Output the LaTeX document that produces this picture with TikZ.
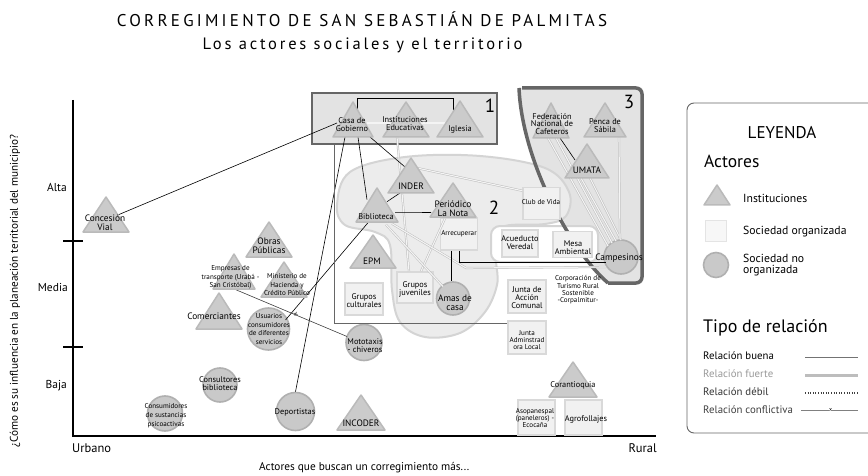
\documentclass[tikz,border=0pt]{standalone}
\usepackage{fontspec}
\setmainfont{PT Sans}
\usetikzlibrary{calc}
\definecolor{trif}{HTML}{CBCBCB}
\definecolor{trid}{HTML}{BABABA}
\definecolor{sqf}{HTML}{F1F1F1}
\definecolor{sqd}{HTML}{D9D9D9}
\definecolor{cif}{HTML}{C9C9C9}
\definecolor{cid}{HTML}{B0B0B0}
\definecolor{blobf}{HTML}{ECECEC}
\definecolor{blobd}{HTML}{D4D4D4}
\definecolor{boxf}{HTML}{E3E3E3}
\definecolor{frd}{HTML}{666666}
\definecolor{strd}{HTML}{BDBDBD}
\definecolor{strf}{HTML}{F4F4F4}
\newcommand\trishape[4]{\path[tri] ({#1-#3},#2) -- (#1,{#2-#4}) -- ({#1+#3},#2) -- cycle;}
\begin{document}
\begin{tikzpicture}[x=1pt,y=-1pt,
 tri/.style={fill=trif,draw=trid,line width=1.5pt,line join=round},
 sq/.style={fill=sqf,draw=sqd,line width=1.5pt,inner sep=0pt},
 circ/.style={circle,fill=cif,draw=cid,line width=1.6pt,inner sep=0pt},
 lbl/.style={font=\fontsize{8.3}{7.9}\selectfont,align=center,inner sep=0pt},
 big/.style={font=\fontsize{9.3}{9}\selectfont},
 small/.style={font=\fontsize{7.1}{8.7}\selectfont},
 tight/.style={font=\fontsize{7.1}{7.3}\selectfont},
 good/.style={draw=black,line width=0.6pt},
 confl/.style={draw=black!75,line width=0.6pt},
 strong/.style={draw=strd,double=strf,double distance=1.1pt,line width=0.5pt},
 frame/.style={draw=frd,line width=1.4pt},
 axis/.style={draw=black,line width=1.1pt},
 ax/.style={font=\fontsize{11.5}{12}\selectfont,inner sep=0pt},
 num/.style={font=\fontsize{19}{20}\selectfont,inner sep=0pt},
 leg/.style={font=\fontsize{11.7}{12}\selectfont,inner sep=0pt,anchor=west,align=left},
 rel/.style={font=\fontsize{10.8}{12}\selectfont,inner sep=0pt,anchor=west}]
\useasboundingbox (0,0) rectangle (868,476);
\clip (0,0) rectangle (868,476);
\fill[white] (0,0) rectangle (868,476);

% titles
\node[font=\fontsize{17}{19}\selectfont\addfontfeatures{LetterSpace=19}] (title) at (362,19) {CORREGIMIENTO DE SAN SEBASTIÁN DE PALMITAS};
\node[font=\fontsize{16.5}{18}\selectfont\addfontfeatures{LetterSpace=17}] (subtitle) at (362.5,45) {Los actores sociales y el territorio};

% axes
\draw[axis] (73,100) -- (73,436) -- (656,436);
\draw[axis] (63,241) -- (83,241);
\draw[axis] (63,347) -- (83,347);
\node[ax,anchor=east] (alta) at (67,187) {Alta};
\node[ax,anchor=east] (media) at (68,287) {Media};
\node[ax,anchor=east] (baja) at (67,386) {Baja};
\node[ax,anchor=west,font=\fontsize{12.5}{13}\selectfont] (urb) at (72,448) {Urbano};
\node[ax,anchor=east,font=\fontsize{12.5}{13}\selectfont] (rur) at (657,448) {Rural};
\node[font=\fontsize{11.3}{12}\selectfont,anchor=west,inner sep=0pt] (xt) at (259,468) {Actores que buscan un corregimiento más...};
\node[font=\fontsize{11.2}{12}\selectfont,rotate=90,inner sep=0pt] (yt) at (15,291) {¿Cómo es su influencia en la planeación territorial del municipio?};

% group boxes
\node[draw=frd,fill=boxf,line width=2.5pt,minimum width=185,minimum height=51,inner sep=0pt] (box1) at (404.5,118.5) {};
\fill[boxf] (519,88) -- (642,88) -- (642,283) -- (608,283) .. controls (570,250) and (522,160) .. (519,88) -- cycle;
\draw[blobd,fill=blobf,line width=2pt] plot[smooth cycle,tension=0.6] coordinates {(337,205) (350,172) (405,157) (480,156) (545,168) (569,192) (566,216) (545,224) (505,226) (494,240) (496,262) (497,285) (485,312) (460,333) (425,337) (400,322) (392,290) (390,245) (375,232) (345,225)};
\draw[blobd,fill=white,line width=2pt,rounded corners=9pt] (491,226) rectangle (598,262);
\draw[frd,line width=3.5pt,rounded corners=6pt,line join=round] (608,283) -- (642,283) -- (642,88) -- (522,88);
\draw[frd,line width=3.5pt] (608,283) .. controls (570,250) and (522,160) .. (519,88);

% named shapes (backgrounds for labels)
\node[sq,minimum width=37,minimum height=32] (club) at (541.5,203.5) {};
\node[sq,minimum width=36,minimum height=27] (acue) at (520,243.5) {};
\node[sq,minimum width=39,minimum height=26] (mesa) at (572.5,244.5) {};
\node[sq,minimum width=37,minimum height=32] (arr) at (459,234) {};
\node[sq,minimum width=38,minimum height=32] (gcul) at (364,299) {};
\node[sq,minimum width=36,minimum height=31] (gjuv) at (415,287.5) {};
\node[sq,minimum width=38,minimum height=33] (jac) at (527,296.5) {};
\node[sq,minimum width=38,minimum height=33] (jadm) at (527,337.5) {};
\node[sq,minimum width=37,minimum height=35] (asop) at (536.5,417.5) {};
\node[sq,minimum width=37,minimum height=35] (agro) at (583.5,417.5) {};
\node[circ,minimum size=34] (camp) at (621,257) {};
\node[circ,minimum size=33] (amas) at (453,298.5) {};
\node[circ,minimum size=42] (usu) at (268.5,329) {};
\node[circ,minimum size=36] (moto) at (364,342.5) {};
\node[circ,minimum size=34] (cons) at (220,385) {};
\node[circ,minimum size=35] (csp) at (165,413.5) {};
\node[circ,minimum size=38] (depo) at (295.5,411.5) {};

% label positions (for triangles)
\coordinate (casa) at (352,125);
\coordinate (inst) at (405,124);
\coordinate (igle) at (460,129);
\coordinate (fed) at (552,124);
\coordinate (penca) at (605,125.5);
\coordinate (umata) at (587,170);
\coordinate (conc) at (105,222.5);
\coordinate (obras) at (269,246);
\coordinate (emp) at (230.5,277.3);
\coordinate (min) at (287,284.8);
\coordinate (com) at (214,316);
\coordinate (inder) at (411,186);
\coordinate (bib) at (376,216.7);
\coordinate (per) at (453,208.5);
\coordinate (epm) at (372,261.7);
\coordinate (incoder) at (361,423.3);
\coordinate (coran) at (573,385);

% connectors: strong relations
\draw[strong] ($(casa)+(15,-2)$) -- ($(igle)+(-15,-6)$);
\draw[strong] ($(inst)+(-8,13)$) -- ($(gjuv.north)+(-6,0)$);
\draw[strong] ($(per)+(-8,10)$) -- ($(gjuv.north)+(6,0)$);
\draw[strong] ($(bib)+(10,8)$) -- ($(amas)+(-10,-12)$);
\draw[strong] ($(bib)+(16,7)$) -- (466,268) -- ($(camp)+(-15,10)$);
\draw[strong] ($(inder)+(6,-18)$) -- ($(club.north west)+(0,4)$);
\draw[strong] ($(fed)+(-4,14)$) -- ($(camp)+(-13,-11)$);
\draw[strong] ($(fed)+(4,14)$) -- ($(camp)+(-9,-14)$);
\draw[strong] ($(umata)+(-6,8)$) -- ($(camp)+(-5,-16)$);
\draw[strong] ($(umata)+(3,8)$) -- ($(camp)+(0,-17)$);
\draw[strong] ($(penca)+(14,12)$) -- ($(camp.north)+(-1,0)$);

% connectors: good relations
\draw[good] ($(casa)+(-15,-2)$) -- ($(conc)+(14,-8)$);
\draw[good] ($(casa)+(-7,12)$) -- (depo.north);
\draw[good] ($(casa)+(6,12)$) -- ($(bib)+(-9,-17)$);
\draw[good] ($(casa)+(18,12)$) -- ($(inder)+(-6,-19)$);
\draw[good] ($(bib)+(-8,6)$) -- ($(usu)+(17,-9)$);
\draw[good] ($(bib)+(19,-4)$) -- ($(per)+(-22,4)$);
\draw[good] ($(bib)+(11,-15)$) -- ($(inder)+(-11,7)$);
\draw[good] ($(arr.south)+(-8,0)$) -- ($(amas.north)+(-2,0)$);
\draw[good] (arr.south) |- ($(camp)+(-15,5)$);
\draw[good] ($(fed)+(8,14)$) -- ($(umata)+(-12,-10)$);
\draw[good] ($(casa)+(5,-13)$) |- ($(igle)+(-7,-31)$) -- ($(igle)+(-7,-16)$);
\draw[confl] ($(emp)+(2,11)$) -- node[pos=.55,sloped,inner sep=0pt,font=\fontsize{10}{10}\selectfont,text=black!75]{+} ($(moto)+(-17,-6)$);
\draw[frame] ($(box1.south west)+(24,0)$) |- ($(jadm.north west)+(0,3)$);

% triangles
\trishape{353}{137}{20}{35}
\trishape{406}{137}{23}{35}
\trishape{460}{137}{23}{36}
\trishape{551}{138}{18}{35}
\trishape{605}{137}{21}{34}
\trishape{587}{178}{22}{34}
\trishape{106}{232}{23}{35}
\trishape{269}{257}{23}{35}
\trishape{234}{289}{21}{35}
\trishape{284}{297}{23}{35}
\trishape{219}{329}{23}{36}
\trishape{411}{193}{23}{35}
\trishape{377}{222}{21}{34}
\trishape{453}{217}{23}{34}
\trishape{373}{268}{23}{33}
\trishape{361}{430}{24}{35}
\trishape{573}{397}{24}{35}

% labels
\node[lbl] (casaT) at (casa) {Casa de\\Gobierno};
\node[lbl] (instT) at (inst) {Instituciones\\Educativas};
\node[lbl] (igleT) at (igle) {Iglesia};
\node[lbl] (fedT) at (fed) {Federación\\Nacional de\\Cafeteros};
\node[lbl] (pencaT) at (penca) {Penca de\\Sábila};
\node[lbl,big] (umataT) at (umata) {UMATA};
\node[lbl,big] (concT) at (conc) {Concesión\\Vial};
\node[lbl,big] (obrasT) at (obras) {Obras\\Públicas};
\node[lbl,small] (empT) at (emp) {Empresas de\\transporte (Urabá -\\San Cristóbal)};
\node[lbl,small] (minT) at (min) {Ministerio de\\Hacienda y\\Crédito Público};
\node[lbl,big] (comT) at (com) {Comerciantes};
\node[lbl,big] (inderT) at (inder) {INDER};
\node[lbl] (bibT) at (bib) {Biblioteca};
\node[lbl,big] (perT) at (per) {Periódico\\La Nota};
\node[lbl,big] (epmT) at (epm) {EPM};
\node[lbl,big] (incoderT) at (incoder) {INCODER};
\node[lbl] (coranT) at (coran) {Corantioquia};
\node[lbl,small] (clubT) at (541,202.3) {Club de Vida};
\node[lbl] (acueT) at (520,242.7) {Acueducto\\Veredal};
\node[lbl] (mesaT) at (573,248) {Mesa\\Ambiental};
\node[lbl,small] (arrT) at (arr) {Arrecuperar};
\node[lbl] (gculT) at (364,300.5) {Grupos\\culturales};
\node[lbl] (gjuvT) at (415,289) {Grupos\\juveniles};
\node[lbl] (jacT) at (527,297.3) {Junta de\\Acción\\Comunal};
\node[lbl,tight] (jadmT) at (527,340) {Junta\\Adminstrad\\ora Local};
\node[lbl,tight] (asopT) at (535,418) {Asopanespal\\(paneleros) -\\Ecocaña};
\node[lbl] (agroT) at (586,419) {Agrofollajes};
\node[lbl,tight] (corpT) at (578,290) {Corporación de\\Turismo Rural\\Sostenible\\-Corpalmitur-};
\node[lbl,big] (campT) at (619,258) {Campesinos};
\node[lbl,big] (amasT) at (455,302.5) {Amas de\\casa};
\node[lbl,small] (usuT) at (269,329) {Usuarios\\consumidores\\de diferentes\\servicios};
\node[lbl] (motoT) at (365,346) {Mototaxis\\- chiveros};
\node[lbl] (consT) at (220,384) {Consultores\\biblioteca};
\node[lbl,small] (cspT) at (166,415.7) {Consumidores\\de sustancias\\psicoactivas};
\node[lbl] (depoT) at (295,412.7) {Deportistas};
\node[num] (n1) at (490,106) {1};
\node[num] (n2) at (494,208) {2};
\node[num] (n3) at (629,102) {3};

% legend
\draw[draw=frd,line width=0.9pt,rounded corners=7pt] (687,103) rectangle (890,433);
\node[font=\fontsize{17}{18}\selectfont,inner sep=0pt] (leyT) at (782,133) {LEYENDA};
\node[font=\fontsize{17.5}{18}\selectfont,inner sep=0pt,anchor=west] (actT) at (704,161) {Actores};
\trishape{717}{205}{13}{20}
\node[leg] (l1) at (743,198) {Instituciones};
\node[sq,fill=sqf!60,draw=sqd!70,line width=1pt,minimum size=21] (lsq) at (715.5,230.5) {};
\node[leg] (l2) at (743,232) {Sociedad organizada};
\node[circ,minimum size=25] (lci) at (716,265) {};
\node[leg,font=\fontsize{11.7}{11}\selectfont] (l3) at (743,265) {Sociedad no\\organizada};
\node[font=\fontsize{18}{19}\selectfont,inner sep=0pt,anchor=west] (tipT) at (703,328) {Tipo de relación};
\node[rel] (r1) at (703,356) {Relación buena};
\node[rel,text=black!40] (r2) at (703,374) {Relación fuerte};
\node[rel,text=black!80] (r3) at (703,392) {Relación débil};
\node[rel,text=black!75] (r4) at (703,410) {Relación conflictiva};
\coordinate (a1) at (805,357); \coordinate (b1) at (858,357);
\coordinate (a2) at (805,375); \coordinate (b2) at (858,375);
\coordinate (a3) at (805,393); \coordinate (b3) at (858,393);
\coordinate (a4) at (801,410); \coordinate (b4) at (858,410);
\draw[draw=black!55,line width=0.6pt] (a1) -- (b1);
\draw[draw=strd,line width=3pt] (a2) -- (b2);
\draw[draw=black!75,line width=1.2pt,dash pattern=on 1pt off 1.6pt] (a3) -- (b3);
\draw[draw=black!50,line width=0.6pt] (a4) -- node[pos=.52,inner sep=0pt,fill=white,font=\fontsize{6}{6}\selectfont]{x} (b4);
\end{tikzpicture}
\end{document}
